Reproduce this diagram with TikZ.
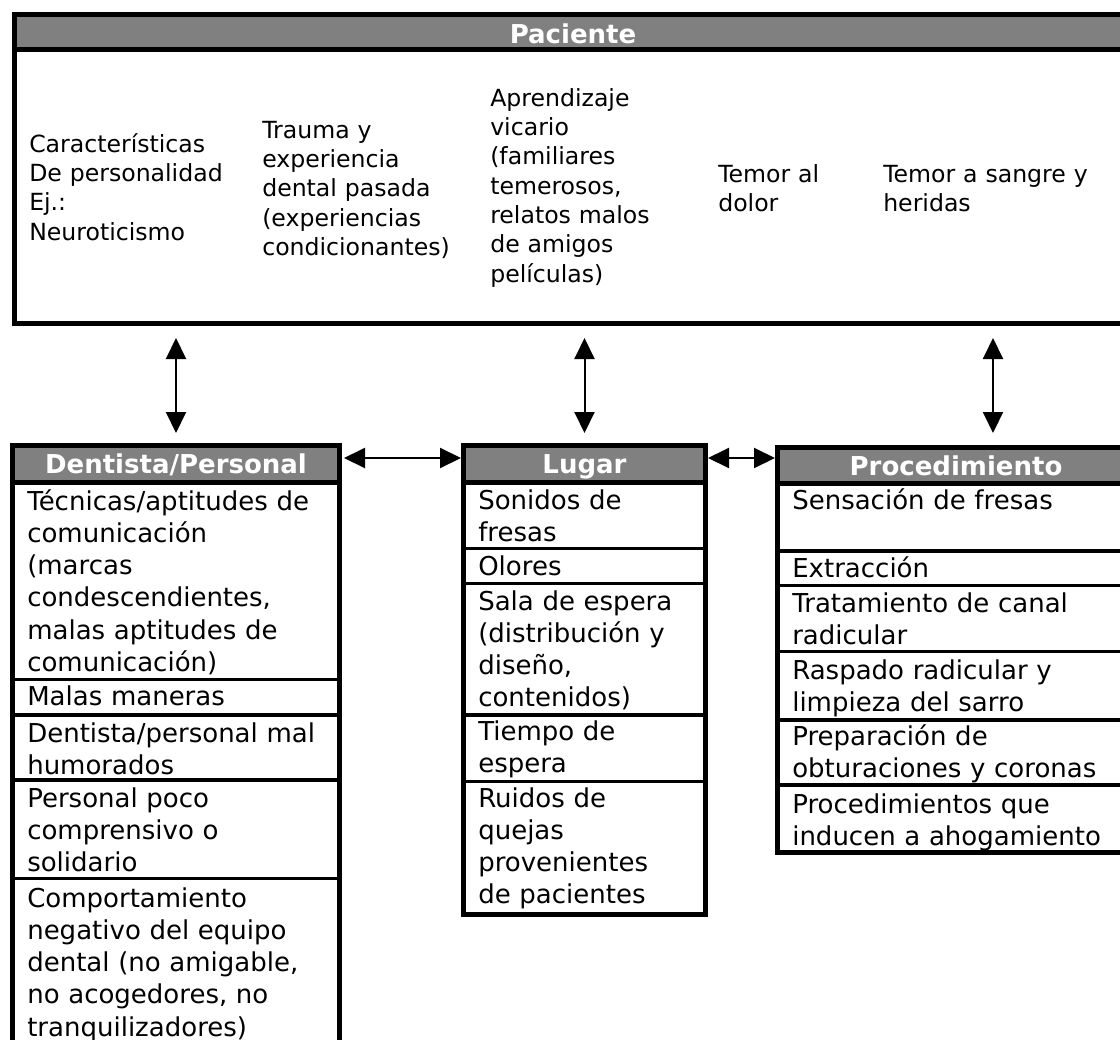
\documentclass[tikz,border=0pt]{standalone}
\usepackage{fontspec}
\setmainfont{DejaVu Sans}
\usetikzlibrary{arrows.meta,fit}
\definecolor{hdr}{HTML}{808080}
\begin{document}
\begin{tikzpicture}[x=0.75pt,y=-0.75pt,
  boxline/.style={draw=black,line width=3.75pt,inner sep=0pt},
  sepline/.style={line width=3.75pt},
  rowline/.style={line width=2.6pt},
  hdrtxt/.style={anchor=base,inner sep=0pt,text=white,font=\fontsize{19.5pt}{24pt}\selectfont\bfseries},
  toptxt/.style={anchor=base west,inner sep=0pt,align=left,text width=200pt,font=\fontsize{17.7pt}{22pt}\selectfont},
  rowtxt/.style={anchor=base west,inner sep=0pt,align=left,text width=260pt,font=\fontsize{19.5pt}{24.2pt}\selectfont},
  arr/.style={line width=1.5pt,arrows={Triangle[length=15.75pt,width=15pt]-Triangle[length=15.75pt,width=15pt]}}]
\useasboundingbox (0,0) rectangle (1120,1039);
\clip (0,0) rectangle (1120,1039);

% ---------------- Paciente ----------------
\fill[hdr] (17,17) rectangle (1129,47);
\node[boxline,fit={(14.5,14.5) (1131.5,323.5)}] (pac) {};
\draw[sepline] (12,49.5) -- (1134,49.5);
\node[hdrtxt] (pacH) at (573,43) {Paciente};
\node[toptxt] (c1) at (29,152) {Características\\De personalidad\\Ej.:\\Neuroticismo};
\node[toptxt] (c2) at (262,138) {Trauma y\\experiencia\\dental pasada\\(experiencias\\condicionantes)};
\node[toptxt] (c3) at (490,106) {Aprendizaje\\vicario\\(familiares\\temerosos,\\relatos malos\\de amigos\\películas)};
\node[toptxt] (c4) at (718,182) {Temor al\\dolor};
\node[toptxt] (c5) at (883,182) {Temor a sangre y\\heridas};

% ---------------- Dentista/Personal ----------------
\fill[hdr] (15,448) rectangle (337,480);
\node[boxline,fit={(12.5,445.5) (339.5,1057)}] (dent) {};
\draw[sepline] (10,482.5) -- (342,482.5);
\draw[rowline] (10,679.5) -- (342,679.5);
\draw[rowline] (10,715) -- (342,715);
\draw[rowline] (10,780) -- (342,780);
\draw[rowline] (10,878.5) -- (342,878.5);
\node[hdrtxt] (dentH) at (176,473) {Dentista/Personal};
\node[rowtxt] (d1) at (27,510) {Técnicas/aptitudes de\\comunicación\\(marcas\\condescendientes,\\malas aptitudes de\\comunicación)};
\node[rowtxt] (d2) at (27,705) {Malas maneras};
\node[rowtxt] (d3) at (27,742) {Dentista/personal mal\\humorados};
\node[rowtxt] (d4) at (27,807) {Personal poco\\comprensivo o\\solidario};
\node[rowtxt] (d5) at (27,907) {Comportamiento\\negativo del equipo\\dental (no amigable,\\no acogedores, no\\tranquilizadores)};

% ---------------- Lugar ----------------
\fill[hdr] (466,448) rectangle (703,480);
\node[boxline,fit={(463.5,445.5) (705.5,914.5)}] (lug) {};
\draw[sepline] (461,482.5) -- (708,482.5);
\draw[rowline] (461,548.5) -- (708,548.5);
\draw[rowline] (461,583.5) -- (708,583.5);
\draw[rowline] (461,715) -- (708,715);
\draw[rowline] (461,781.5) -- (708,781.5);
\node[hdrtxt] (lugH) at (584.5,473) {Lugar};
\node[rowtxt] (l1) at (478,509) {Sonidos de\\fresas};
\node[rowtxt] (l2) at (478,575) {Olores};
\node[rowtxt] (l3) at (478,610) {Sala de espera\\(distribución y\\diseño,\\contenidos)};
\node[rowtxt] (l4) at (478,740) {Tiempo de\\espera};
\node[rowtxt] (l5) at (478,807) {Ruidos de\\quejas\\provenientes\\de pacientes};

% ---------------- Procedimiento ----------------
\fill[hdr] (780,450) rectangle (1132,481);
\node[boxline,fit={(777.5,447.5) (1134.5,852.5)}] (proc) {};
\draw[sepline] (775,483.5) -- (1137,483.5);
\draw[rowline] (775,551) -- (1137,551);
\draw[rowline] (775,585.5) -- (1137,585.5);
\draw[rowline] (775,651.5) -- (1137,651.5);
\draw[rowline] (775,720) -- (1137,720);
\draw[rowline] (775,785) -- (1137,785);
\node[hdrtxt] (procH) at (956,475) {Procedimiento};
\node[rowtxt] (p1) at (792,509) {Sensación de fresas};
\node[rowtxt] (p2) at (792,577) {Extracción};
\node[rowtxt] (p3) at (792,612) {Tratamiento de canal\\radicular};
\node[rowtxt] (p4) at (792,679) {Raspado radicular y\\limpieza del sarro};
\node[rowtxt] (p5) at (792,745) {Preparación de\\obturaciones y coronas};
\node[rowtxt] (p6) at (792,813) {Procedimientos que\\inducen a ahogamiento};

% ---------------- Connectors ----------------
\coordinate (a3) at (993,400);
\coordinate (hy) at (0,458);
\draw[arr,shorten <=9pt,shorten >=7.5pt] (pac.south -| dent.north) -- (dent.north);
\draw[arr,shorten <=9pt,shorten >=7.5pt] (pac.south -| lug.north) -- (lug.north);
\draw[arr,shorten <=9pt,shorten >=9pt] (pac.south -| a3) -- (proc.north -| a3);
\draw[arr,shorten <=1.5pt] (dent.east |- hy) -- (lug.west |- hy);
\draw[arr] (lug.east |- hy) -- (proc.west |- hy);
\end{tikzpicture}
\end{document}
